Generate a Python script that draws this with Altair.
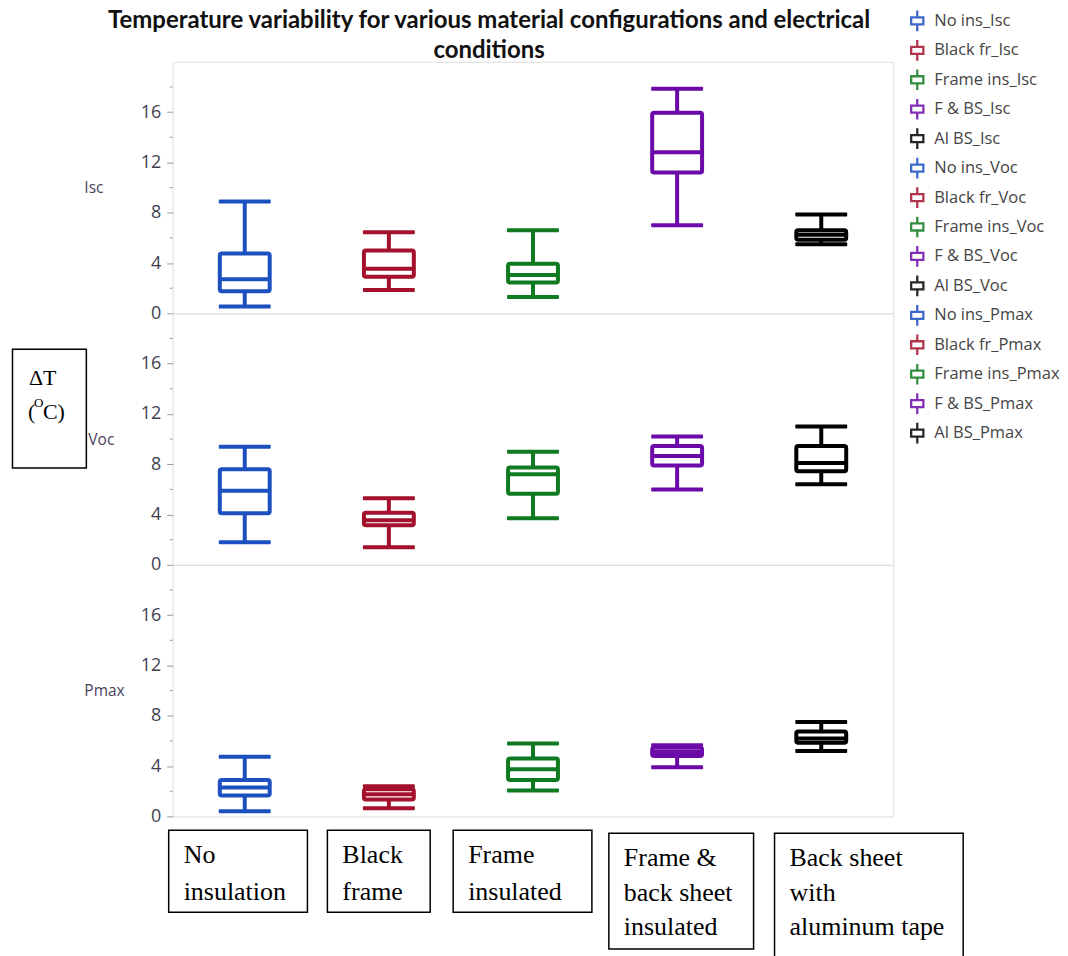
import altair as alt
import pandas as pd

# ---------------- data (ΔT in °C, five-number summaries) ----------------
configs = ["No ins", "Black fr", "Frame ins", "F & BS", "Al BS"]
conditions = ["Isc", "Voc", "Pmax"]
colors = ["#1c4fc0", "#a3112c", "#0f7a20", "#6b0aa9", "#000000"]

isc_lo = [0.55, 1.85, 1.3, 7.0, 5.5]
isc_q1 = [1.75, 2.9, 2.45, 11.2, 5.85]
isc_med = [2.7, 3.55, 3.05, 12.8, 6.25]
isc_q3 = [4.75, 5.0, 3.95, 15.95, 6.6]
isc_hi = [8.9, 6.45, 6.6, 17.85, 7.85]

voc_lo = [1.8, 1.4, 3.7, 6.0, 6.4]
voc_q1 = [4.1, 3.15, 5.65, 7.9, 7.45]
voc_med = [5.9, 3.55, 7.2, 8.65, 8.1]
voc_q3 = [7.6, 4.15, 7.75, 9.45, 9.45]
voc_hi = [9.4, 5.3, 9.0, 10.2, 11.0]

pmax_lo = [0.4, 0.65, 2.05, 3.9, 5.2]
pmax_q1 = [1.65, 1.35, 2.9, 4.8, 5.85]
pmax_med = [2.3, 1.75, 3.75, 5.12, 6.2]
pmax_q3 = [2.9, 2.15, 4.6, 5.45, 6.75]
pmax_hi = [4.75, 2.4, 5.8, 5.65, 7.5]

y_ticks = [0, 4, 8, 12, 16]
y_minor = [2, 6, 10, 14, 18]

title_lines = "Temperature variability for various material configurations and electrical\nconditions"
category_boxes = [
    ["No", "insulation"],
    ["Black", "frame"],
    ["Frame", "insulated"],
    ["Frame &", "back sheet", "insulated"],
    ["Back sheet", "with", "aluminum tape"],
]

# ---------------- build tables ----------------
stats = {
    "Isc": (isc_lo, isc_q1, isc_med, isc_q3, isc_hi),
    "Voc": (voc_lo, voc_q1, voc_med, voc_q3, voc_hi),
    "Pmax": (pmax_lo, pmax_q1, pmax_med, pmax_q3, pmax_hi),
}
rows = []
for cond in conditions:
    lo, q1, med, q3, hi = stats[cond]
    for i, c in enumerate(configs):
        rows.append(dict(config=c, cond=cond, series=f"{c}_{cond}",
                         lo=lo[i], q1=q1[i], med=med[i], q3=q3[i], hi=hi[i]))
df = pd.DataFrame(rows)

series_domain = [f"{c}_{cond}" for cond in conditions for c in configs]
color_scale = alt.Scale(domain=series_domain, range=colors * 3)

W, H = 722, 252
# box-plot glyph for the legend: two stems + a hollow box (ring via opposite winding)
PATH = ("M-0.127,-1.15H0.127V-0.518H-0.127Z"
        "M-0.127,0.518H0.127V1.15H-0.127Z"
        "M-0.805,-0.518H0.805V0.518H-0.805Z"
        "M-0.552,-0.265V0.265H0.552V-0.265Z")

legend = alt.Legend(
    title=None, orient="none", legendX=737, legendY=-50,
    symbolType=PATH, symbolSize=324, symbolStrokeWidth=0,
    labelFont="Open Sans", labelFontSize=16.5, labelColor="#444444", labelOffset=8,
    rowPadding=7.5, padding=0, labelLimit=250,
)

title_x = {"Isc": -89, "Voc": -85, "Pmax": -89}


def panel(cond, extra=None):
    d = df[df.cond == cond]
    base = alt.Chart(d)
    x = alt.X("config:N", sort=configs,
              scale=alt.Scale(domain=configs, paddingInner=0, paddingOuter=0), axis=None)
    ysc = alt.Scale(domain=[0, 20], nice=False, zero=True)
    yax = alt.Axis(values=y_ticks, title=cond, titleAngle=0, titleAlign="left",
                   titleBaseline="middle", titleX=title_x[cond], titleY=H / 2,
                   titleFont="Open Sans", titleFontSize=15.5, titleFontWeight="normal",
                   titleColor="#4a3f5c", labelFont="Open Sans", labelFontSize=18,
                   labelColor="#3f3f52", tickSize=6, tickColor="#9a9a9a", tickWidth=1,
                   labelPadding=6, domain=False, grid=False)
    col_leg = alt.Color("series:N", scale=color_scale, legend=legend)
    col = alt.Color("series:N", scale=color_scale, legend=None)

    # legend carrier (first layer): same series, drawn outside the view and clipped away
    leg = base.mark_point(filled=True, clip=True, opacity=0.85, size=324).encode(
        x=x, y=alt.Y("med:Q", scale=ysc, axis=yax), color=col_leg,
        yOffset=alt.value(-2000))
    w_hi = base.mark_rule(strokeWidth=4, opacity=1).encode(
        x=x, y=alt.Y("q3:Q", scale=ysc, axis=yax), y2="hi:Q", color=col)
    w_lo = base.mark_rule(strokeWidth=4, opacity=1).encode(
        x=x, y=alt.Y("lo:Q", scale=ysc, axis=yax), y2="q1:Q", color=col)
    box = base.mark_bar(size=50, filled=False, strokeWidth=4, cornerRadius=2, opacity=1).encode(
        x=x, y=alt.Y("q1:Q", scale=ysc, axis=yax), y2="q3:Q", color=col)
    cap_hi = base.mark_tick(size=52, thickness=4, cornerRadius=1, opacity=1).encode(
        x=x, y=alt.Y("hi:Q", scale=ysc, axis=yax), color=col)
    cap_lo = base.mark_tick(size=52, thickness=4, cornerRadius=1, opacity=1).encode(
        x=x, y=alt.Y("lo:Q", scale=ysc, axis=yax), color=col)
    median = base.mark_tick(size=50, thickness=4, opacity=1).encode(
        x=x, y=alt.Y("med:Q", scale=ysc, axis=yax), color=col)
    minor = alt.Chart(pd.DataFrame({"v": y_minor})).mark_rule(
        stroke="#9a9a9a", strokeWidth=1).encode(
        y=alt.Y("v:Q", scale=ysc, axis=yax), x=alt.value(-3), x2=alt.value(0))

    layers = [leg, w_hi, w_lo, box, cap_hi, cap_lo, median, minor]
    if extra:
        layers += extra
    return alt.layer(*layers).properties(width=W, height=H)


one = pd.DataFrame({"k": [0]})

title_mark = alt.Chart(one).mark_text(
    text=title_lines, lineBreak="\n", lineHeight=30, font="Lato", fontSize=24,
    fontWeight="bold", color="#111111", align="center", baseline="alphabetic").encode(
    x=alt.value(317), y=alt.value(-33.5))

dt_box = alt.Chart(one).mark_rect(fill="white", stroke="black", strokeWidth=1.5).encode(
    x=alt.value(-160.5), x2=alt.value(-86.5), y=alt.value(36), y2=alt.value(155))
dt_t1 = alt.Chart(one).mark_text(text="ΔT", font="Liberation Serif", fontSize=22,
                                 align="left", color="black").encode(
    x=alt.value(-144), y=alt.value(65))
dt_t2 = alt.Chart(one).mark_text(text="(", font="Liberation Serif", fontSize=22,
                                 align="left", color="black").encode(
    x=alt.value(-145), y=alt.value(99))
dt_t3 = alt.Chart(one).mark_text(text="O", font="Liberation Serif", fontSize=13,
                                 align="left", color="black").encode(
    x=alt.value(-139), y=alt.value(90))
dt_t4 = alt.Chart(one).mark_text(text="C)", font="Liberation Serif", fontSize=22,
                                 align="left", color="black").encode(
    x=alt.value(-130), y=alt.value(99))

p_isc = panel("Isc", [title_mark])
p_voc = panel("Voc", [dt_box, dt_t1, dt_t2, dt_t3, dt_t4])
p_pmax = panel("Pmax")

# bottom annotation boxes (pixel layout relative to plot area)
box_left = [-4, 155, 281, 437, 603]
box_right = [135, 258, 420, 582, 792]
box_top = [14, 14, 14, 17, 17]
box_bottom = [96, 96, 96, 133, 142]
text_indent = 15
line_base = [47, 84, 119]
line_base_tall = [50, 85, 119]

rect_df = pd.DataFrame({"x0": box_left, "x1": box_right, "y0": box_top, "y1": box_bottom})
trows = []
for i, lines in enumerate(category_boxes):
    bases = line_base if box_top[i] == 14 else line_base_tall
    for j, t in enumerate(lines):
        trows.append(dict(tx=box_left[i] + text_indent, ty=bases[j], t=t))
text_df = pd.DataFrame(trows)

ann_rect = alt.Chart(rect_df).mark_rect(fill="white", stroke="black", strokeWidth=1.5).encode(
    x=alt.X("x0:Q", scale=None), x2="x1:Q", y=alt.Y("y0:Q", scale=None), y2="y1:Q")
ann_text = alt.Chart(text_df).mark_text(font="Liberation Serif", fontSize=26, align="left",
                                        baseline="alphabetic", color="black").encode(
    x=alt.X("tx:Q", scale=None), y=alt.Y("ty:Q", scale=None), text="t:N")
ann = alt.layer(ann_rect, ann_text).properties(
    width=W, height=140, view=alt.ViewBackground(stroke="transparent"))

chart = alt.vconcat(p_isc, p_voc, p_pmax, ann, spacing=0, bounds="flush").properties(
    padding={"left": 3, "top": 0, "right": 0, "bottom": 0}
).configure_view(stroke="#c6c6c6", strokeWidth=1.5).configure(background="white")

chart.save("out.html", embed_options={"renderer": "svg", "actions": False})
